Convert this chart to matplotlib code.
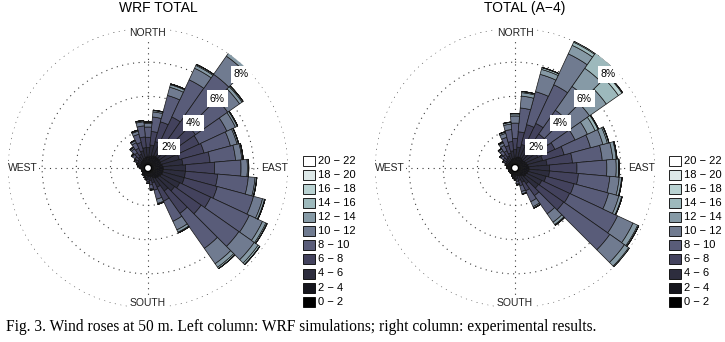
import numpy as np
import matplotlib
matplotlib.use("Agg")
import matplotlib.pyplot as plt
from matplotlib.patches import Rectangle

# wind directions (deg, clockwise from north), 10 degree sectors
directions = np.arange(0, 360, 10)

speed_bins = ["0 \u2212 2", "2 \u2212 4", "4 \u2212 6", "6 \u2212 8", "8 \u2212 10", "10 \u2212 12",
              "12 \u2212 14", "14 \u2212 16", "16 \u2212 18", "18 \u2212 20", "20 \u2212 22"]

# ---- WRF TOTAL: frequency (%) per direction for each speed bin ----
wrf_s00_02 = [0.10] * 23 + [0.09] * 4 + [0.10] * 9
wrf_s02_04 = [0.35, 0.40, 0.45, 0.50, 0.50, 0.50, 0.50, 0.50, 0.55, 0.60, 0.60, 0.60,
              0.55, 0.50, 0.45, 0.35, 0.25, 0.20, 0.18, 0.15, 0.14, 0.12, 0.12, 0.08,
              0.08, 0.08, 0.08, 0.12, 0.14, 0.15, 0.18, 0.20, 0.22, 0.25, 0.30, 0.35]
wrf_s04_06 = [0.55, 0.65, 0.85, 1.00, 1.10, 1.00, 1.00, 1.10, 1.20, 1.30, 1.30, 1.30,
              1.20, 1.10, 0.90, 0.60, 0.35, 0.25, 0.18, 0.12, 0.10, 0.06, 0.06, 0.03,
              0.03, 0.03, 0.03, 0.06, 0.10, 0.13, 0.18, 0.22, 0.28, 0.35, 0.45, 0.55]
wrf_s06_08 = [0.60, 0.80, 1.20, 1.50, 1.80, 1.60, 1.50, 1.50, 1.60, 1.70, 1.90, 2.00,
              2.00, 1.90, 1.60, 0.90, 0.45, 0.25, 0.14, 0.08, 0.06, 0.02, 0.02, 0.00,
              0.00, 0.00, 0.00, 0.02, 0.05, 0.08, 0.14, 0.22, 0.30, 0.38, 0.50, 0.63]
wrf_s08_10 = [0.60, 0.85, 1.60, 2.40, 3.00, 2.30, 1.80, 1.60, 1.50, 1.55, 1.80, 2.20,
              2.50, 2.70, 2.50, 1.30, 0.55, 0.22, 0.08, 0.05, 0.00, 0.00, 0.00, 0.00,
              0.00, 0.00, 0.00, 0.00, 0.01, 0.04, 0.08, 0.18, 0.28, 0.36, 0.50, 0.65]
wrf_s10_12 = [0.22, 0.30, 0.50, 0.75, 1.30, 0.85, 0.55, 0.40, 0.37, 0.37, 0.40, 0.55,
              0.85, 1.10, 1.10, 0.55, 0.25, 0.08, 0.02, 0.00, 0.00, 0.00, 0.00, 0.00,
              0.00, 0.00, 0.00, 0.00, 0.00, 0.00, 0.02, 0.06, 0.09, 0.12, 0.18, 0.24]
wrf_s12_14 = [0.06, 0.08, 0.15, 0.18, 0.28, 0.18, 0.12, 0.08, 0.06, 0.06, 0.08, 0.12,
              0.22, 0.28, 0.25, 0.15, 0.05, 0.00, 0.00, 0.00, 0.00, 0.00, 0.00, 0.00,
              0.00, 0.00, 0.00, 0.00, 0.00, 0.00, 0.00, 0.02, 0.03, 0.04, 0.05, 0.06]
wrf_s14_16 = [0.02, 0.02, 0.05, 0.07, 0.10, 0.07, 0.03, 0.02, 0.02, 0.02, 0.02, 0.03,
              0.08, 0.12, 0.10, 0.05, 0.00, 0.00, 0.00, 0.00, 0.00, 0.00, 0.00, 0.00,
              0.00, 0.00, 0.00, 0.00, 0.00, 0.00, 0.00, 0.00, 0.00, 0.00, 0.02, 0.02]
wrf_s16_18 = [0.00, 0.00, 0.00, 0.00, 0.02] + [0.00] * 31
wrf_s18_20 = [0.00] * 36
wrf_s20_22 = [0.00] * 36

# ---- TOTAL (A-4): measured frequency (%) ----
a4_s00_02 = [0.08] * 21 + [0.07] * 6 + [0.08] * 9
a4_s02_04 = [0.30, 0.35, 0.40, 0.40, 0.35, 0.35, 0.40, 0.45, 0.50, 0.55, 0.55, 0.50,
             0.45, 0.45, 0.30, 0.25, 0.20, 0.15, 0.12, 0.11, 0.10, 0.07, 0.07, 0.07,
             0.07, 0.07, 0.07, 0.10, 0.10, 0.11, 0.14, 0.16, 0.18, 0.20, 0.25, 0.28]
a4_s04_06 = [0.50, 0.60, 0.75, 0.80, 0.70, 0.70, 0.80, 0.95, 1.10, 1.20, 1.20, 1.10,
             1.00, 0.95, 0.55, 0.40, 0.28, 0.18, 0.12, 0.10, 0.07, 0.04, 0.04, 0.04,
             0.04, 0.04, 0.04, 0.07, 0.07, 0.10, 0.15, 0.20, 0.25, 0.30, 0.38, 0.45]
a4_s06_08 = [0.65, 0.90, 1.20, 1.40, 1.10, 1.00, 1.10, 1.30, 1.50, 1.60, 1.70, 1.70,
             1.80, 1.80, 0.85, 0.55, 0.32, 0.18, 0.10, 0.07, 0.04, 0.02, 0.02, 0.02,
             0.02, 0.02, 0.02, 0.04, 0.04, 0.07, 0.12, 0.20, 0.27, 0.34, 0.45, 0.55]
a4_s08_10 = [0.90, 1.40, 2.00, 2.50, 1.70, 1.50, 1.30, 1.60, 1.75, 1.75, 1.85, 2.10,
             3.10, 3.30, 1.30, 0.70, 0.35, 0.15, 0.06, 0.04, 0.01, 0.00, 0.00, 0.00,
             0.00, 0.00, 0.00, 0.01, 0.01, 0.04, 0.08, 0.17, 0.26, 0.35, 0.50, 0.70]
a4_s10_12 = [0.42, 0.70, 1.05, 2.00, 1.70, 1.50, 0.80, 0.75, 0.62, 0.55, 0.55, 0.62,
             1.00, 1.05, 0.60, 0.32, 0.14, 0.05, 0.02, 0.00, 0.00, 0.00, 0.00, 0.00,
             0.00, 0.00, 0.00, 0.00, 0.00, 0.00, 0.03, 0.07, 0.12, 0.16, 0.24, 0.32]
a4_s12_14 = [0.12, 0.20, 0.30, 0.55, 1.30, 1.20, 0.50, 0.27, 0.20, 0.14, 0.14, 0.17,
             0.30, 0.30, 0.17, 0.08, 0.03, 0.01, 0.00, 0.00, 0.00, 0.00, 0.00, 0.00,
             0.00, 0.00, 0.00, 0.00, 0.00, 0.00, 0.00, 0.02, 0.04, 0.05, 0.08, 0.10]
a4_s14_16 = [0.03, 0.07, 0.10, 0.20, 1.10, 0.87, 0.18, 0.08, 0.05, 0.03, 0.03, 0.03,
             0.07, 0.07, 0.05, 0.02, 0.00, 0.00, 0.00, 0.00, 0.00, 0.00, 0.00, 0.00,
             0.00, 0.00, 0.00, 0.00, 0.00, 0.00, 0.00, 0.00, 0.00, 0.02, 0.02, 0.02]
a4_s16_18 = [0.00, 0.00, 0.02, 0.07, 0.37, 0.25, 0.04, 0.02] + [0.00] * 28
a4_s18_20 = [0.00, 0.00, 0.00, 0.00, 0.10, 0.05] + [0.00] * 30
a4_s20_22 = [0.00] * 36

wrf_bins = [wrf_s00_02, wrf_s02_04, wrf_s04_06, wrf_s06_08, wrf_s08_10, wrf_s10_12,
            wrf_s12_14, wrf_s14_16, wrf_s16_18, wrf_s18_20, wrf_s20_22]
a4_bins = [a4_s00_02, a4_s02_04, a4_s04_06, a4_s06_08, a4_s08_10, a4_s10_12,
           a4_s12_14, a4_s14_16, a4_s16_18, a4_s18_20, a4_s20_22]

ring_values = [2, 4, 6, 8]
colors = plt.cm.bone(np.linspace(0, 1, len(speed_bins)))

W, H = 725, 342
plt.rcParams['font.family'] = ['Liberation Sans', 'DejaVu Sans']
fig = plt.figure(figsize=(W / 100, H / 100), dpi=100)


def px_box(cx, cy, r):
    # axes rect in figure fraction from pixel centre / radius
    return [(cx - r) / W, (H - cy - r) / H, 2 * r / W, 2 * r / H]


def draw_rose(cx, cy, bins, title, leg_x):
    ax = fig.add_axes(px_box(cx, cy, 140), projection='polar')
    ax.set_theta_zero_location('N')
    ax.set_theta_direction(-1)
    rmax = ring_values[-1]
    ax.set_ylim(0, rmax)
    ax.set_rorigin(-0.2)
    ax.grid(False)
    ax.spines['polar'].set_visible(False)
    ax.set_xticks([])
    ax.set_yticks([])

    # dotted rings and cross
    t = np.linspace(0, 2 * np.pi, 400)
    for rv in ring_values:
        ax.plot(t, np.full_like(t, rv), ls=(0, (1, 4)), color='#3a3a3a', lw=0.8, zorder=1)
    for ang in [0, 90, 180, 270]:
        ax.plot([np.radians(ang)] * 2, [0, rmax], ls=(0, (1, 4)), color='#3a3a3a', lw=0.8, zorder=1)

    theta = np.radians(directions)
    width = np.radians(10)
    bottom = np.zeros(len(directions))
    for vals, c in zip(bins, colors):
        vals = np.array(vals)
        ax.bar(theta, vals, width=width, bottom=bottom, color=c,
               edgecolor='#151515', linewidth=0.5, zorder=2)
        bottom += vals

    for rv in ring_values:
        ax.text(np.radians(45), rv - 0.45, f"{rv}%", ha='center', va='center', fontsize=7.5,
                zorder=5, bbox=dict(boxstyle='square,pad=0.3', fc='white', ec='none'))

    lab = dict(fontsize=7.5, color='#222222', zorder=6,
               bbox=dict(boxstyle='square,pad=0.1', fc='white', ec='none'))
    ax.text(0, rmax, "NORTH", ha='center', va='top', **lab)
    ax.text(np.pi, rmax, "SOUTH", ha='center', va='bottom', **lab)
    ax.text(np.pi / 2, rmax, "EAST", ha='right', va='center', **lab)
    ax.text(3 * np.pi / 2, rmax, "WEST", ha='left', va='center', **lab)

    fig.text((cx + 10) / W, 1 - 8 / H, title, ha='center', va='center', fontsize=10)

    # legend, highest class on top
    for i, (name, c) in enumerate(zip(speed_bins[::-1], colors[::-1])):
        yc = 160.7 + i * 14.1
        fig.add_artist(Rectangle((leg_x / W, (H - yc - 5) / H), 12 / W, 10 / H,
                                 transform=fig.transFigure, facecolor=c,
                                 edgecolor='black', linewidth=0.6))
        fig.text((leg_x + 15) / W, (H - yc) / H, name, ha='left', va='center', fontsize=8)


draw_rose(148, 168, wrf_bins, "WRF TOTAL", 303)
draw_rose(515, 168, a4_bins, "TOTAL (A\u22124)", 669)

fig.text(6 / W, 1 - 327 / H,
         "Fig. 3. Wind roses at 50 m. Left column: WRF simulations; right column: experimental results.",
         ha='left', va='center', fontsize=11.2, family='Liberation Serif')

fig.savefig("out.png", dpi=100)
